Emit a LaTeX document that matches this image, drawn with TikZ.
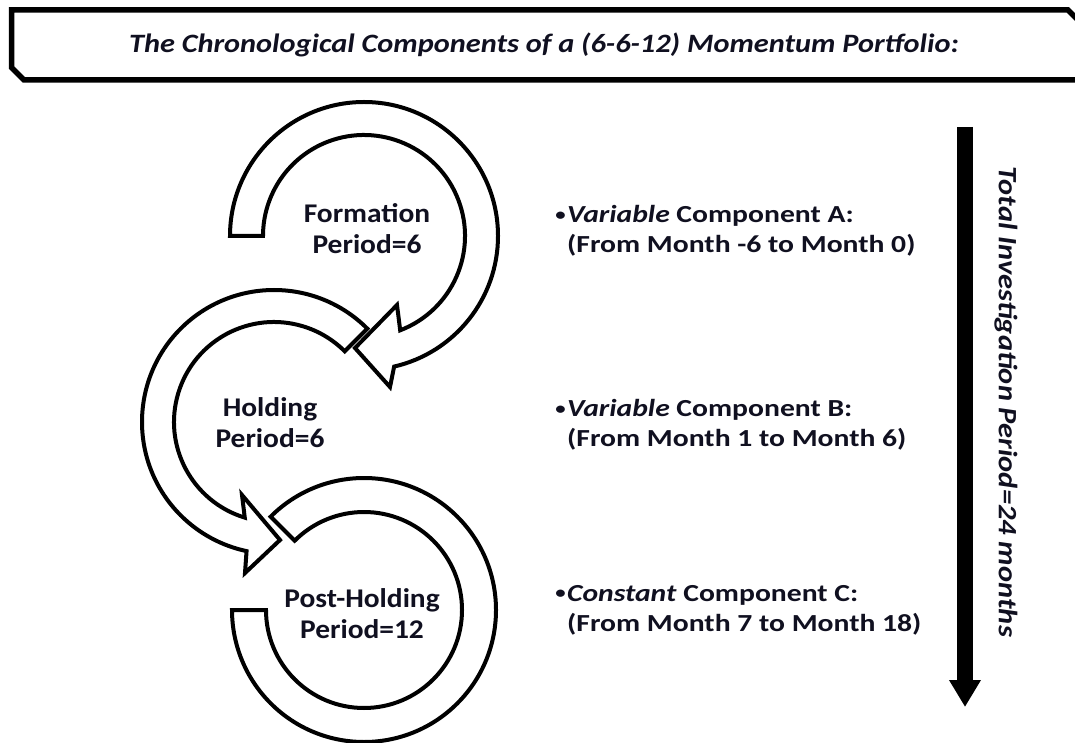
\documentclass[tikz,border=0pt]{standalone}
\usepackage{fontspec}
\setmainfont{Carlito}
\newfontfamily\titlefont[FakeStretch=1.145]{Carlito}
\newfontfamily\labelfont[FakeStretch=1.09]{Carlito}
\newfontfamily\descfont[FakeStretch=1.21]{Carlito}
\newfontfamily\axisfont[FakeStretch=1.15]{Carlito}
\usetikzlibrary{calc,arrows.meta}
\definecolor{ink}{RGB}{16,16,32}
\newcommand{\dotmark}{\llap{\raisebox{0.22ex}{\scalebox{0.7}{•}}\hspace{1.5pt}}}
\begin{document}
\begin{tikzpicture}[x=1pt,y=1pt,
  band/.style={draw=black, line width=4pt, fill=white, line join=miter},
  lbl/.style={font=\labelfont\bfseries\fontsize{27}{31}\selectfont, align=center, text=ink, inner sep=0pt},
  desc/.style={font=\descfont\bfseries\fontsize{24.5}{30}\selectfont, align=left, text=ink, anchor=west, inner sep=0pt},
  frame/.style={draw=black, line width=5.5pt, line join=miter}]
\useasboundingbox (0,0) rectangle (1075,742);

% title banner
\draw[frame] (11.5,732) -- (1068,732) -- (1082,718) -- (1082,662) -- (24,662) -- (11.5,674.5) -- cycle;
\node[font=\titlefont\bfseries\itshape\fontsize{26.5}{30}\selectfont, text=ink] (title) at (544,697)
  {The Chronological Components of a (6-6-12) Momentum Portfolio:};

% post-holding ring (no head)
\coordinate (c3) at (364,132);
\draw[band] ($(c3)+(135:132)$) arc[start angle=135,end angle=-180,radius=132]
  -- ($(c3)+(180:98)$) arc[start angle=-180,end angle=135,radius=98] -- cycle;

% holding arrow
\coordinate (c2) at (274,320);
\coordinate (h2o) at (245,169);
\coordinate (h2t) at (280,202);
\coordinate (h2i) at (242,247);
\draw[band] ($(c2)+(45:132)$) arc[start angle=45,end angle=258,radius=132]
  -- (h2o) -- (h2t) -- (h2i)
  -- ($(c2)+(253:100)$) arc[start angle=253,end angle=45,radius=100] -- cycle;

% formation arrow
\coordinate (c1) at (364,506);
\coordinate (h1o) at (390,355);
\coordinate (h1t) at (355,394);
\coordinate (h1i) at (397,437);
\draw[band] ($(c1)+(180:134)$) arc[start angle=180,end angle=-77,radius=134]
  -- (h1o) -- (h1t) -- (h1i)
  -- ($(c1)+(-69:101)$) arc[start angle=-69,end angle=180,radius=101] -- cycle;

% period labels
\node[lbl] (form) at (367,513) {Formation\\Period=6};
\node[lbl] (hold) at (270,319) {Holding\\Period=6};
\node[lbl] (post) at (362,128) {Post-Holding\\Period=12};

% component descriptions
\node[desc] (compA) at (567,511) {\dotmark\textit{Variable} Component A:\\(From Month -6 to Month 0)};
\node[desc] (compB) at (567,317) {\dotmark\textit{Variable} Component B:\\(From Month 1 to Month 6)};
\node[desc] (compC) at (567,132) {\dotmark\textit{Constant} Component C:\\(From Month 7 to Month 18)};

% time axis
\coordinate (tTop) at (965,615);
\coordinate (tBot) at (965,35);
\draw[line width=16pt, -{Triangle[width=30pt,length=27pt]}] (tTop) -- (tBot);
\node[rotate=-90, font=\axisfont\bfseries\itshape\fontsize{26.5}{30}\selectfont, text=ink] (total) at (1006,340)
  {Total Investigation Period=24 months};
\end{tikzpicture}
\end{document}
